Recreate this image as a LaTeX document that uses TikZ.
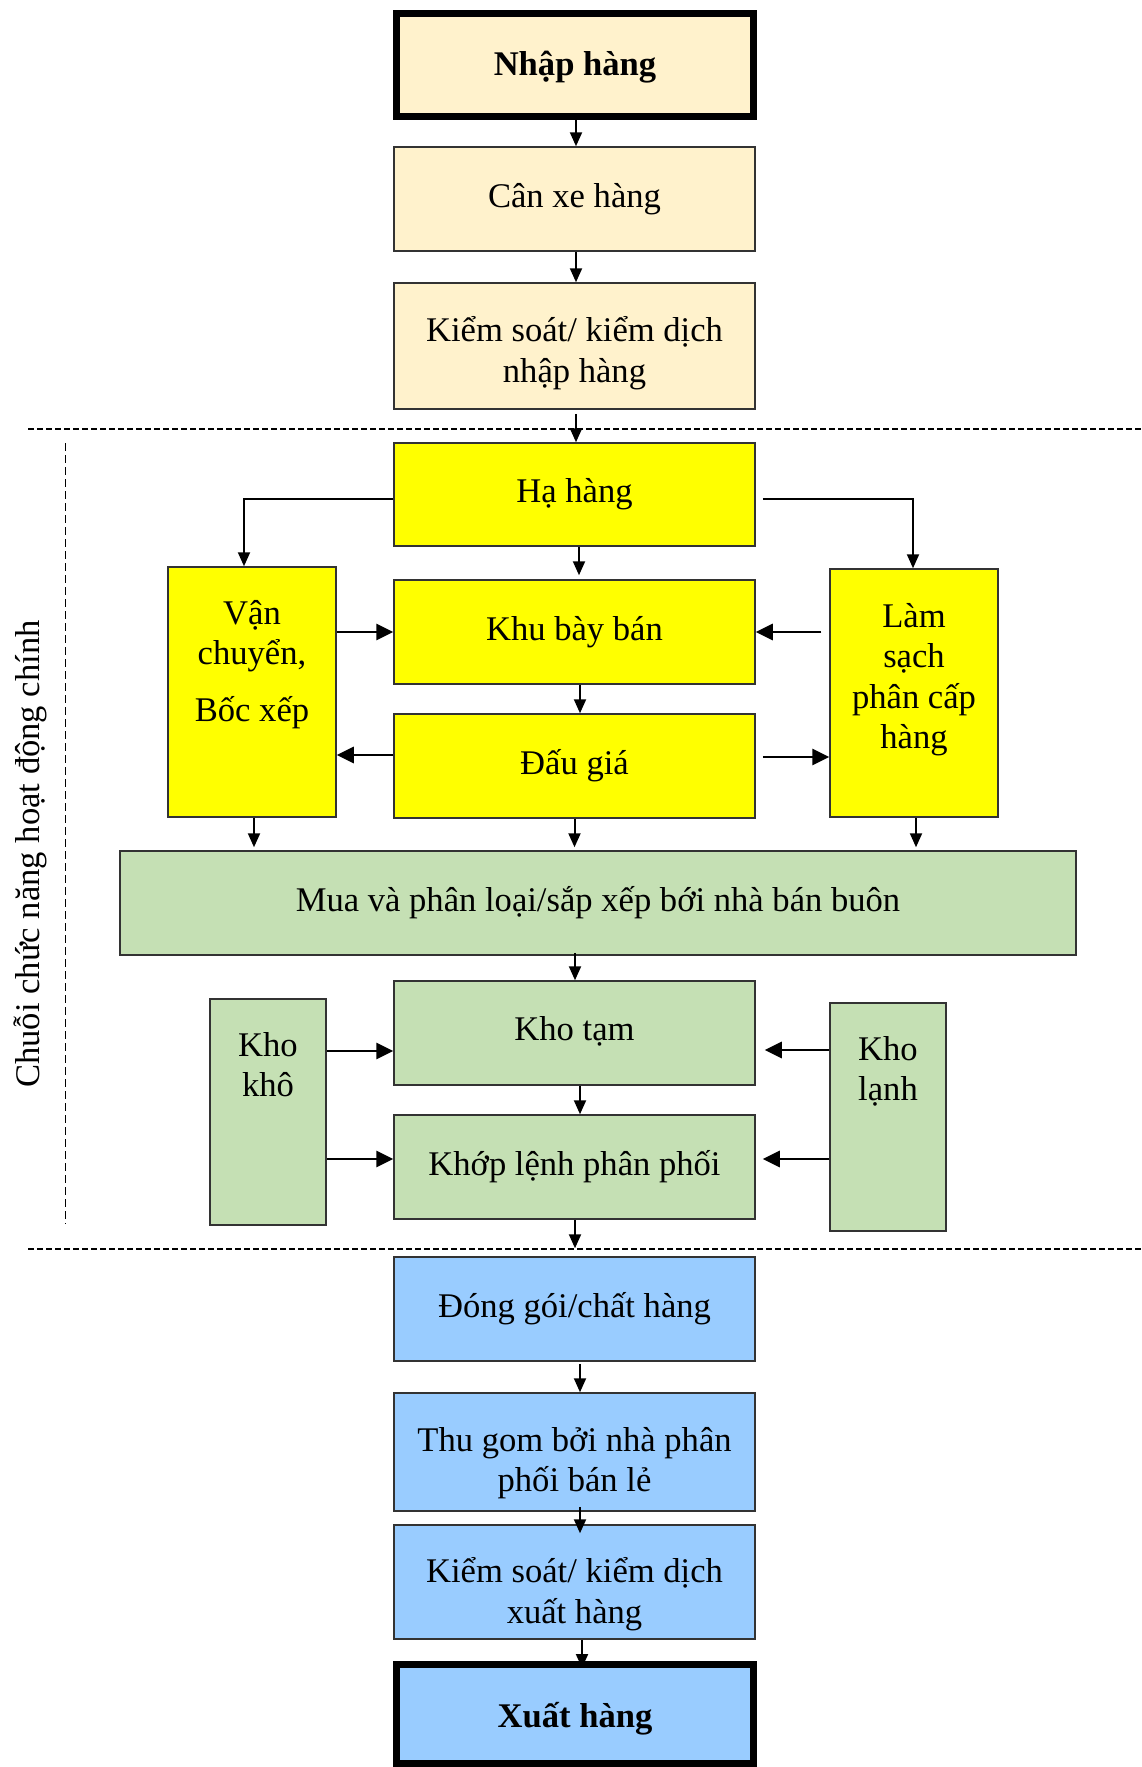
\documentclass[tikz,border=0pt]{standalone}
\usepackage{fontspec}
\setmainfont{Liberation Serif}
\usetikzlibrary{arrows.meta,calc}
\definecolor{beige}{HTML}{FFF2CC}
\definecolor{yel}{HTML}{FFFF00}
\definecolor{grn}{HTML}{C5E0B4}
\definecolor{blu}{HTML}{99CCFF}
\definecolor{edge}{HTML}{333333}
\begin{document}
\begin{tikzpicture}[x=0.5pt,y=-0.5pt,
  font=\fontsize{17.3pt}{20.2pt}\selectfont,
  sz/.style 2 args={minimum width=#1*0.5pt, minimum height=#2*0.5pt},
  box/.style={draw=edge, line width=0.75pt, inner sep=0pt, align=center},
  endbox/.style={draw=black, line width=3.5pt, inner sep=0pt, align=center, font=\fontsize{17.3pt}{20.2pt}\selectfont\bfseries},
  txt/.style={inner sep=0pt, align=center},
  arr/.style={line width=1pt, -{Triangle[length=7pt,width=6pt]}},
  tarr/.style={line width=1.4pt, -{Triangle[length=8.5pt,width=8pt]}},
  hline/.style={line width=0.75pt, dash pattern=on 3pt off 1.5pt},
  vline/.style={line width=0.5pt, dash pattern=on 4pt off 2pt}]
\useasboundingbox (0,0) rectangle (1141,1767);

% boxes
\node[endbox, fill=beige, sz={357}{103}] (nhap) at (575,65) {};
\node[txt, font=\fontsize{17.3pt}{20.2pt}\selectfont\bfseries] (nhaptxt) at (575,67) {Nhập hàng};
\node[box, fill=beige, sz={361}{104}] (can) at (574.5,199) {Cân xe hàng};
\node[box, fill=beige, sz={361}{126}] (ks1) at (574.5,346) {};
\node[txt] (ks1txt) at (574.5,353) {Kiểm soát/ kiểm dịch\\nhập hàng};
\node[box, fill=yel, sz={361}{103}] (ha) at (574.5,494.5) {Hạ hàng};
\node[box, fill=yel, sz={168}{250}] (van) at (252,692) {};
\node[txt, anchor=north] (vantxt) at (252,600) {Vận\\chuyển,\\[8pt]Bốc xếp};
\node[box, fill=yel, sz={361}{104}] (khu) at (574.5,632) {Khu bày bán};
\node[box, fill=yel, sz={361}{104}] (dau) at (574.5,766) {Đấu giá};
\node[box, fill=yel, sz={168}{248}] (lam) at (914,693) {};
\node[txt, anchor=north] (lamtxt) at (914,603) {Làm\\sạch\\phân cấp\\hàng};
\node[box, fill=grn, sz={956}{104}] (mua) at (598,903) {Mua và phân loại/sắp xếp bới nhà bán buôn};
\node[box, fill=grn, sz={361}{104}] (khotam) at (574.5,1033) {};
\node[txt] (khotamtxt) at (574.5,1031) {Kho tạm};
\node[box, fill=grn, sz={116}{226}] (khokho) at (268,1112) {};
\node[txt, anchor=north] (khokhotxt) at (268,1032) {Kho\\khô};
\node[box, fill=grn, sz={116}{228}] (kholanh) at (888,1117) {};
\node[txt, anchor=north] (kholanhtxt) at (888,1036) {Kho\\lạnh};
\node[box, fill=grn, sz={361}{104}] (khop) at (574.5,1167) {Khớp lệnh phân phối};
\node[box, fill=blu, sz={361}{104}] (dong) at (574.5,1309) {Đóng gói/chất hàng};
\node[box, fill=blu, sz={361}{118}] (thu) at (574.5,1452) {};
\node[txt] (thutxt) at (574.5,1463) {Thu gom bởi nhà phân\\phối bán lẻ};
\node[box, fill=blu, sz={361}{114}] (ks2) at (574.5,1582) {};
\node[txt] (ks2txt) at (574.5,1594) {Kiểm soát/ kiểm dịch\\xuất hàng};
\node[endbox, fill=blu, sz={357}{99}] (xuat) at (575,1714) {};
\node[txt, font=\fontsize{17.3pt}{20.2pt}\selectfont\bfseries] (xuattxt) at (575,1719) {Xuất hàng};

% side label
\node[rotate=90, inner sep=0pt] (lbl) at (30,854) {Chuỗi chức năng hoạt động chính};

% dashed separators
\coordinate (d1a) at (28,429); \coordinate (d1b) at (1141,429);
\coordinate (d2a) at (28,1249); \coordinate (d2b) at (1141,1249);
\coordinate (v1) at (65,443); \coordinate (v2) at (65,1224);
\draw[hline] (d1a) -- (d1b);
\draw[hline] (d2a) -- (d2b);
\draw[vline] (v1) -- (v2);

% main chain
\draw[arr] ($(nhap.south)+(1,0)$) -- ($(can.north)+(1.5,0)$);
\draw[arr] ($(can.south)+(1.5,0)$) -- ($(ks1.north)+(1.5,0)$);
\draw[arr] ($(ks1.south)+(1.5,4)$) -- ($(ha.north)+(1.5,0)$);
\draw[arr] ($(ha.south)+(4.5,0)$) -- ($(khu.north)+(4.5,-4)$);
\draw[arr] ($(khu.south)+(5.5,0)$) -- ($(dau.north)+(5.5,0)$);

% Ha hang to sides
\draw[arr] ($(ha.west)+(0,4.5)$) -| ($(van.north)+(-8,0)$);
\draw[arr] ($(ha.east)+(7,4.5)$) -| ($(lam.north)+(-1,0)$);

% side arrows (yellow)
\draw[tarr] (van.east |- khu.west) -- (khu.west);
\draw[tarr] ($(lam.west |- khu.east)+(-8,0)$) -- (khu.east);
\draw[tarr] ($(dau.west)+(0,-11)$) -- ($(van.east |- dau.west)+(0,-11)$);
\draw[tarr] ($(dau.east)+(7,-9)$) -- ($(lam.west |- dau.east)+(0,-9)$);

% to Mua
\draw[arr] ($(van.south)+(2,0)$) -- ($(mua.north -| van.south)+(2,-3)$);
\draw[arr] (dau.south) -- ($(mua.north -| dau.south)+(0,-3)$);
\draw[arr] ($(lam.south)+(2,0)$) -- ($(mua.north -| lam.south)+(2,-3)$);

% green section
\draw[arr] ($(khotam.north |- mua.south)+(0.5,-3)$) -- ($(khotam.north)+(0.5,0)$);
\draw[arr] ($(khotam.south)+(5.5,0)$) -- ($(khop.north)+(5.5,0)$);
\draw[tarr] ($(khokho.east |- khotam.west)+(0,18)$) -- ($(khotam.west)+(0,18)$);
\draw[tarr] ($(kholanh.west |- khotam.east)+(0,17)$) -- ($(khotam.east)+(9,17)$);
\draw[tarr] ($(khokho.east |- khop.west)+(0,-8)$) -- ($(khop.west)+(0,-8)$);
\draw[tarr] ($(kholanh.west |- khop.east)+(0,-8)$) -- ($(khop.east)+(7,-8)$);
\draw[arr] ($(khop.south)+(0.5,0)$) -- ($(dong.north)+(0.5,-8)$);

% blue section
\draw[arr] ($(dong.south)+(5.5,2)$) -- ($(thu.north)+(5.5,0)$);
\draw[arr] ($(thu.south)+(5.5,-5)$) -- ($(ks2.north)+(5.5,9)$);
\draw[arr] ($(ks2.south)+(7.5,0)$) -- ($(xuat.north)+(7,7)$);
\end{tikzpicture}
\end{document}
